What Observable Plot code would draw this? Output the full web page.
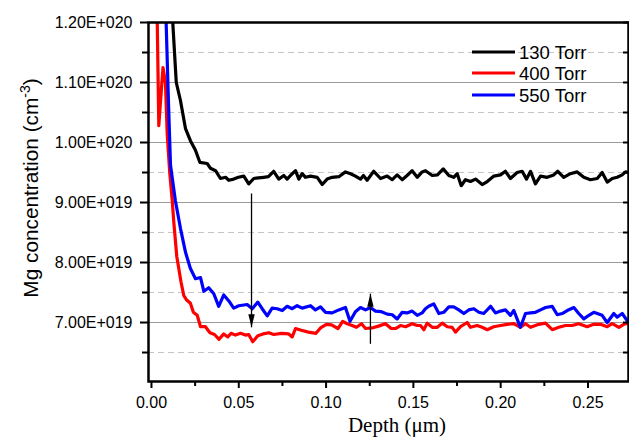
<!DOCTYPE html>
<html><head><meta charset="utf-8">
<script src="https://cdn.jsdelivr.net/npm/d3@7"></script>
<script src="https://cdn.jsdelivr.net/npm/@observablehq/plot@0.6"></script>
<style>html,body{margin:0;padding:0;background:#fff;}</style>
</head><body><div id="chart"></div>
<script>
// Series (concentration in units of 1e19 cm^-3)
const seriesNames = ["130 Torr", "400 Torr", "550 Torr"];
const seriesColors = ["#000000", "#ff0000", "#0000ff"];

const blackDepth = [0.0100,0.0122,0.0142,0.0166,0.0195,0.0223,0.0252,0.0277,0.0319,0.0338,
0.0367,0.0395,0.0424,0.0443,0.0471,0.0498,0.0529,0.0557,0.0586,0.0613,
0.0643,0.0670,0.0700,0.0729,0.0758,0.0777,0.0796,0.0825,0.0844,0.0863,
0.0882,0.0911,0.0949,0.0978,0.1006,0.1035,0.1073,0.1111,0.1140,0.1168,
0.1197,0.1214,0.1235,0.1273,0.1312,0.1350,0.1379,0.1407,0.1436,0.1464,
0.1493,0.1522,0.1550,0.1569,0.1608,0.1638,0.1671,0.1703,0.1731,0.1751,
0.1774,0.1798,0.1827,0.1856,0.1894,0.1923,0.1961,0.1999,0.2027,0.2056,
0.2094,0.2123,0.2148,0.2171,0.2199,0.2228,0.2266,0.2304,0.2327,0.2361,
0.2399,0.2438,0.2476,0.2514,0.2553,0.2581,0.2610,0.2639,0.2667,0.2696,
0.2715,0.2732];
const blackConc = [14.0,12.0,11.0,10.7,10.23,10.03,9.87,9.67,9.65,9.57,
9.53,9.40,9.42,9.37,9.39,9.42,9.44,9.31,9.40,9.41,
9.42,9.43,9.52,9.39,9.45,9.39,9.45,9.53,9.39,9.48,
9.42,9.44,9.42,9.30,9.39,9.42,9.43,9.51,9.48,9.44,
9.39,9.45,9.37,9.52,9.40,9.44,9.38,9.46,9.38,9.45,
9.53,9.42,9.51,9.53,9.45,9.46,9.56,9.45,9.42,9.48,
9.28,9.38,9.35,9.39,9.30,9.35,9.44,9.46,9.52,9.40,
9.50,9.52,9.39,9.52,9.31,9.44,9.42,9.46,9.52,9.42,
9.48,9.51,9.42,9.38,9.40,9.50,9.34,9.40,9.42,9.46,
9.51,9.50];

const redDepth = [0.0028,0.0042,0.0066,0.0080,0.0090,0.0105,0.0119,0.0128,0.0145,0.0169,
0.0185,0.0200,0.0223,0.0240,0.0262,0.0281,0.0309,0.0335,0.0361,0.0387,
0.0414,0.0437,0.0456,0.0481,0.0510,0.0538,0.0557,0.0580,0.0609,0.0639,
0.0672,0.0700,0.0745,0.0786,0.0806,0.0825,0.0858,0.0899,0.0942,0.0968,
0.1002,0.1031,0.1068,0.1095,0.1121,0.1149,0.1174,0.1203,0.1226,0.1263,
0.1300,0.1340,0.1373,0.1397,0.1426,0.1455,0.1493,0.1522,0.1541,0.1560,
0.1579,0.1608,0.1637,0.1665,0.1694,0.1722,0.1741,0.1770,0.1808,0.1827,
0.1865,0.1894,0.1923,0.1960,0.1999,0.2037,0.2075,0.2113,0.2142,0.2171,
0.2218,0.2257,0.2295,0.2333,0.2371,0.2409,0.2447,0.2495,0.2533,0.2572,
0.2610,0.2639,0.2677,0.2705,0.2734];
const redConc = [13.0,10.28,11.25,11.0,10.15,9.48,9.03,8.67,8.10,7.68,
7.45,7.38,7.32,7.17,7.12,6.93,6.93,6.83,6.80,6.72,
6.81,6.76,6.82,6.79,6.82,6.79,6.80,6.68,6.78,6.81,
6.83,6.80,6.82,6.81,6.76,6.90,6.87,6.84,6.82,6.91,
6.97,6.96,6.90,7.02,6.98,6.95,6.92,6.98,6.90,6.91,
6.94,6.98,6.90,6.90,6.95,6.93,6.98,6.95,6.95,6.88,
6.99,6.92,6.92,6.99,6.93,6.92,6.84,6.93,7.00,6.92,
6.95,6.92,6.88,6.93,6.95,6.97,6.98,6.92,6.98,6.92,
6.97,6.99,6.88,6.92,6.95,6.95,6.98,6.93,6.97,6.97,
6.93,6.98,6.92,6.97,6.99];

const blueDepth = [0.0070,0.0084,0.0097,0.0109,0.0137,0.0166,0.0195,0.0223,0.0252,0.0281,
0.0300,0.0328,0.0357,0.0385,0.0414,0.0443,0.0471,0.0500,0.0548,0.0577,
0.0609,0.0634,0.0663,0.0691,0.0720,0.0749,0.0777,0.0806,0.0834,0.0863,
0.0911,0.0939,0.0968,0.0997,0.1035,0.1073,0.1111,0.1137,0.1168,0.1197,
0.1226,0.1254,0.1283,0.1317,0.1350,0.1379,0.1407,0.1436,0.1464,0.1493,
0.1522,0.1550,0.1569,0.1588,0.1617,0.1646,0.1674,0.1703,0.1731,0.1760,
0.1789,0.1817,0.1846,0.1875,0.1903,0.1942,0.1970,0.1999,0.2027,0.2056,
0.2075,0.2113,0.2142,0.2171,0.2199,0.2228,0.2257,0.2295,0.2324,0.2352,
0.2381,0.2419,0.2447,0.2476,0.2505,0.2533,0.2581,0.2610,0.2648,0.2667,
0.2696,0.2725,0.2738];
const blueConc = [13.5,12.0,10.7,9.62,9.03,8.57,8.17,7.90,7.73,7.75,
7.52,7.58,7.48,7.27,7.46,7.36,7.24,7.28,7.30,7.23,
7.34,7.23,7.11,7.24,7.23,7.20,7.27,7.23,7.28,7.24,
7.28,7.21,7.26,7.17,7.16,7.21,7.25,7.02,7.18,7.25,
7.21,7.25,7.19,7.18,7.14,7.13,7.06,7.17,7.16,7.19,
7.12,7.16,7.23,7.27,7.31,7.15,7.17,7.26,7.26,7.21,
7.15,7.21,7.23,7.17,7.15,7.27,7.16,7.19,7.21,7.12,
7.20,6.92,7.15,7.16,7.17,7.21,7.25,7.27,7.13,7.15,
7.20,7.25,7.15,7.06,7.12,7.17,7.12,7.00,7.15,7.09,
7.15,7.03,7.00];

// Axis ticks and labels
const yTicks = [7, 8, 9, 10, 11, 12];
const yTickLabels = ["7.00E+019", "8.00E+019", "9.00E+019", "1.00E+020", "1.10E+020", "1.20E+020"];
const yMinor = [6.5, 7.5, 8.5, 9.5, 10.5, 11.5];
const xTicks = [0, 0.05, 0.10, 0.15, 0.20, 0.25];
const xTickLabels = ["0.00", "0.05", "0.10", "0.15", "0.20", "0.25"];
const xMinor = [0.025, 0.075, 0.125, 0.175, 0.225];

// Annotation arrows (depth, from, to)
const arrowDepth = [0.0573, 0.1254];
const arrowFrom = [9.15, 6.645];
const arrowTo = [6.92, 7.48];

const rows = [];
[[blackDepth, blackConc], [redDepth, redConc], [blueDepth, blueConc]].forEach(([xs, ys], i) =>
  xs.forEach((x, j) => rows.push({series: seriesNames[i], depth: x, conc: ys[j]})));
const arrows = arrowDepth.map((x, i) => ({x, from: arrowFrom[i], to: arrowTo[i]}));

const arrowHead = {draw(ctx) { ctx.moveTo(0, 0); ctx.lineTo(-3.2, -13); ctx.lineTo(3.2, -13); ctx.closePath(); }};

function decorations() {
  const g = d3.create("svg:g").attr("fill", "#000").attr("text-anchor", "start");
  const ly = [52, 73, 95];
  seriesNames.forEach((name, i) => {
    g.append("line").attr("x1", 472).attr("x2", 515).attr("y1", ly[i]).attr("y2", ly[i])
      .attr("stroke", seriesColors[i]).attr("stroke-width", 3.2);
    g.append("text").attr("x", 519).attr("y", ly[i]).attr("dy", "0.36em").attr("text-anchor", "start")
      .attr("font-size", 18.5).attr("font-family", '"Liberation Sans", Arial, sans-serif').text(name);
  });
  const t = g.append("text").attr("transform", "translate(30,188) rotate(-90)")
    .attr("text-anchor", "middle").attr("dy", "0.36em").attr("font-size", 20.8)
    .attr("font-family", '"Liberation Sans", Arial, sans-serif');
  t.append("tspan").text("Mg concentration (cm");
  t.append("tspan").attr("font-size", 14).attr("baseline-shift", "super").text("-3");
  t.append("tspan").text(")");
  g.append("text").attr("x", 397).attr("y", 432).attr("text-anchor", "middle")
    .attr("font-size", 21).attr("font-family", '"Liberation Serif", "Times New Roman", serif')
    .text("Depth (\u03bcm)");
  return g.node();
}

const chart = Plot.plot({
  width: 629, height: 438,
  marginLeft: 148, marginRight: 1, marginTop: 22, marginBottom: 57,
  x: {domain: [-0.0017, 0.2732]},
  y: {domain: [6.017, 12]},
  color: {domain: seriesNames, range: seriesColors},
  style: {fontFamily: '"Liberation Sans", Arial, sans-serif', fontSize: "16px", color: "#000", background: "#fff"},
  marks: [
    Plot.ruleY(yMinor, {stroke: "#c4c4c4", strokeWidth: 1, strokeDasharray: "6,4"}),
    Plot.ruleY(yTicks.filter(v => v < 12), {stroke: "#9a9a9a", strokeWidth: 1.2}),
    Plot.line(rows, {x: "depth", y: "conc", z: "series", stroke: "series", strokeWidth: 3.2, clip: true, strokeLinejoin: "round"}),
    Plot.link(arrows, {x1: "x", x2: "x", y1: "from", y2: "to", stroke: "#000", strokeWidth: 1.3}),
    Plot.dot(arrows, {x: "x", y: "to", symbol: arrowHead, r: 5, fill: "#000", stroke: "none", rotate: d => d.to < d.from ? 0 : 180}),
    Plot.axisY(yTicks, {tickSize: 8, tickPadding: 8, strokeWidth: 2, label: null, fontSize: 16,
      tickFormat: d => yTickLabels[yTicks.indexOf(d)]}),
    Plot.axisY(yMinor, {tickSize: 6, strokeWidth: 2, label: null, tickFormat: () => ""}),
    Plot.axisY(yTicks.concat(yMinor), {anchor: "right", tickSize: 6, dx: -6, strokeWidth: 2, label: null, tickFormat: () => ""}),
    Plot.axisX(xTicks, {tickSize: 7, tickPadding: 8, strokeWidth: 2, label: null, fontSize: 16,
      tickFormat: d => xTickLabels[xTicks.indexOf(d)]}),
    Plot.axisX(xMinor, {tickSize: 5, strokeWidth: 2, label: null, tickFormat: () => ""}),
    Plot.frame({stroke: "#000", strokeWidth: 2.5}),
    decorations
  ]
});
document.getElementById("chart").appendChild(chart);
</script>
</body></html>
